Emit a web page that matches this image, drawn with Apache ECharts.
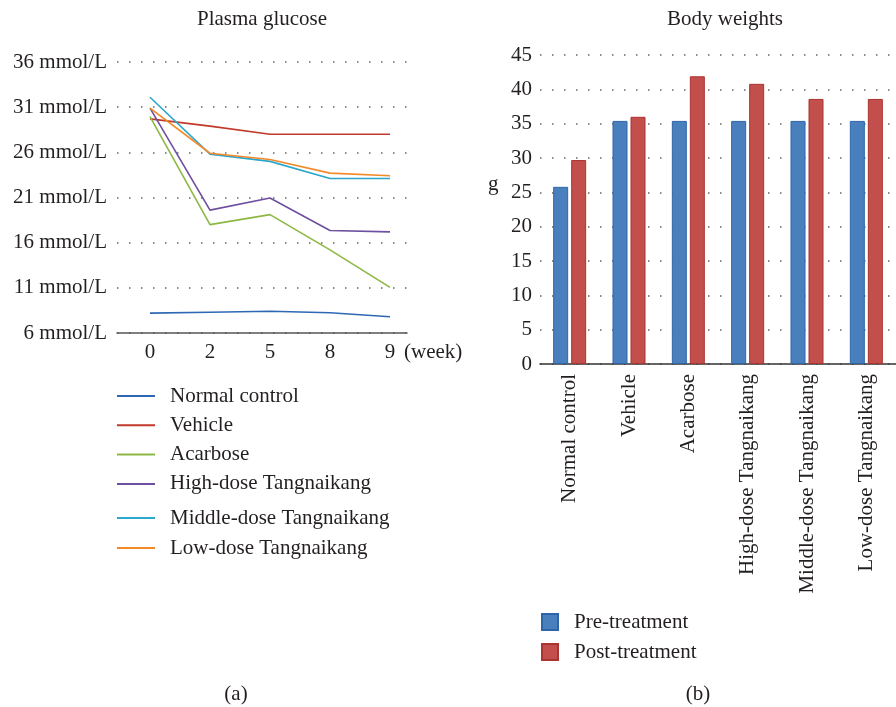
<!DOCTYPE html>
<html>
<head>
<meta charset="utf-8">
<script src="https://cdn.jsdelivr.net/npm/echarts@6/dist/echarts.min.js"></script>
<style>
html,body{margin:0;padding:0;background:#fff;}
#chart{width:896px;height:707px;}
</style>
</head>
<body>
<div id="chart"></div>
<script>
// ---- Data: Plasma glucose (mmol/L) ----
const weeks = ['0', '2', '5', '8', '9'];
const lineNames = ['Normal control', 'Vehicle', 'Acarbose', 'High-dose Tangnaikang', 'Middle-dose Tangnaikang', 'Low-dose Tangnaikang'];
const normalControl = [8.2, 8.3, 8.4, 8.25, 7.8];
const vehicle = [29.7, 28.9, 28.0, 28.0, 28.0];
const acarbose = [29.95, 18.0, 19.1, 15.2, 11.05];
const highDose = [30.9, 19.6, 20.95, 17.35, 17.2];
const middleDose = [32.1, 25.8, 25.0, 23.1, 23.1];
const lowDose = [30.9, 25.9, 25.2, 23.7, 23.4];

// ---- Data: Body weights (g) ----
const groups = ['Normal control', 'Vehicle', 'Acarbose', 'High-dose Tangnaikang', 'Middle-dose Tangnaikang', 'Low-dose Tangnaikang'];
const preTreatment = [25.8, 35.4, 35.4, 35.4, 35.4, 35.4];
const postTreatment = [29.7, 36.0, 41.9, 40.8, 38.6, 38.6];

const FONT = 'Liberation Serif';
const TXT = '#231f20';
const lineColors = ['#2e68b5', '#c0392b', '#8db843', '#6f4f9f', '#2aa7cb', '#f28a2a'];
const lineSeriesData = [normalControl, vehicle, acarbose, highDose, middleDose, lowDose];

const chart = echarts.init(document.getElementById('chart'), null, {renderer: 'canvas'});

const dotted = {color: '#666666', width: 1.5, type: [1.5, 10.5]};

const lineSeries = lineSeriesData.map((vals, k) => ({
  name: lineNames[k],
  type: 'line',
  xAxisIndex: 0, yAxisIndex: 0,
  symbol: 'none',
  smooth: false,
  lineStyle: {color: lineColors[k], width: 1.6},
  itemStyle: {color: lineColors[k]},
  data: vals.map((v, i) => [i, v]),
  z: 3
}));

const titleText = {fontFamily: FONT, fontSize: 21, fontWeight: 'normal', color: TXT};

const option = {
  animation: false,
  backgroundColor: '#fff',
  textStyle: {fontFamily: FONT, color: TXT},
  title: [
    {text: 'Plasma glucose', left: 262, top: 9, textAlign: 'center', padding: 0, textStyle: titleText},
    {text: 'Body weights', left: 725, top: 9, textAlign: 'center', padding: 0, textStyle: titleText},
    {text: '(a)', left: 236, top: 684, textAlign: 'center', padding: 0, textStyle: titleText},
    {text: '(b)', left: 698, top: 684, textAlign: 'center', padding: 0, textStyle: titleText},
    {text: 'g', left: 488, top: 174, padding: 0, textStyle: titleText}
  ],
  legend: [
    {data: lineNames.slice(0, 4), orient: 'vertical', left: 117, top: 385, padding: 0,
     icon: 'rect', itemWidth: 38, itemHeight: 2, itemGap: 7.3,
     textStyle: {fontFamily: FONT, fontSize: 21, color: TXT, lineHeight: 22, padding: [0, 0, 0, 10]}},
    {data: lineNames.slice(4), orient: 'vertical', left: 117, top: 507, padding: 0,
     icon: 'rect', itemWidth: 38, itemHeight: 2, itemGap: 8,
     textStyle: {fontFamily: FONT, fontSize: 21, color: TXT, lineHeight: 22, padding: [0, 0, 0, 10]}},
    {data: ['Pre-treatment', 'Post-treatment'], orient: 'vertical', left: 541, top: 611, padding: 0,
     itemWidth: 16, itemHeight: 16, itemGap: 8, icon: 'rect',
     textStyle: {fontFamily: FONT, fontSize: 21, color: TXT, lineHeight: 22, padding: [0, 0, 0, 11]}}
  ],
  grid: [
    {left: 117, top: 62, width: 290, height: 271, containLabel: false},
    {left: 540, top: 55, width: 368, height: 309, containLabel: false}
  ],
  xAxis: [
    {gridIndex: 0, type: 'value', min: -0.55, max: 4.2833,
     name: '(week)', nameLocation: 'end', nameGap: -3,
     nameTextStyle: {fontFamily: FONT, fontSize: 21, color: TXT, verticalAlign: 'top', align: 'left', padding: [9, 0, 0, 0]},
     axisLine: {show: true, lineStyle: {color: '#555', width: 1.5}},
     axisTick: {show: false},
     splitLine: {show: false},
     axisLabel: {customValues: [0, 1, 2, 3, 4], formatter: v => weeks[Math.round(v)],
                 fontFamily: FONT, fontSize: 21, color: TXT, margin: 9}},
    {gridIndex: 1, type: 'category', data: groups,
     axisLine: {show: true, lineStyle: {color: '#333', width: 1.5}},
     axisTick: {show: false},
     axisLabel: {rotate: 90, fontFamily: FONT, fontSize: 21, color: TXT, margin: 10, interval: 0}}
  ],
  yAxis: [
    {gridIndex: 0, type: 'value', min: 6, max: 36, interval: 5,
     axisLine: {show: false}, axisTick: {show: false},
     splitLine: {show: true, lineStyle: dotted},
     axisLabel: {formatter: '{value} mmol/L', fontFamily: FONT, fontSize: 21, color: TXT, margin: 10}},
    {gridIndex: 1, type: 'value', min: 0, max: 45, interval: 5,
     axisLine: {show: false}, axisTick: {show: false},
     splitLine: {show: true, lineStyle: dotted},
     axisLabel: {fontFamily: FONT, fontSize: 21, color: TXT, margin: 8}}
  ],
  series: lineSeries.concat([
    {name: 'Pre-treatment', type: 'bar', xAxisIndex: 1, yAxisIndex: 1,
     barWidth: 15, barGap: '20%',
     itemStyle: {color: '#4a7fbe', borderColor: '#2f65a8', borderWidth: 1},
     data: preTreatment},
    {name: 'Post-treatment', type: 'bar', xAxisIndex: 1, yAxisIndex: 1,
     barWidth: 15, barGap: '20%',
     itemStyle: {color: '#c24f4c', borderColor: '#ab3330', borderWidth: 1},
     data: postTreatment}
  ])
};

chart.setOption(option);
</script>
</body>
</html>
